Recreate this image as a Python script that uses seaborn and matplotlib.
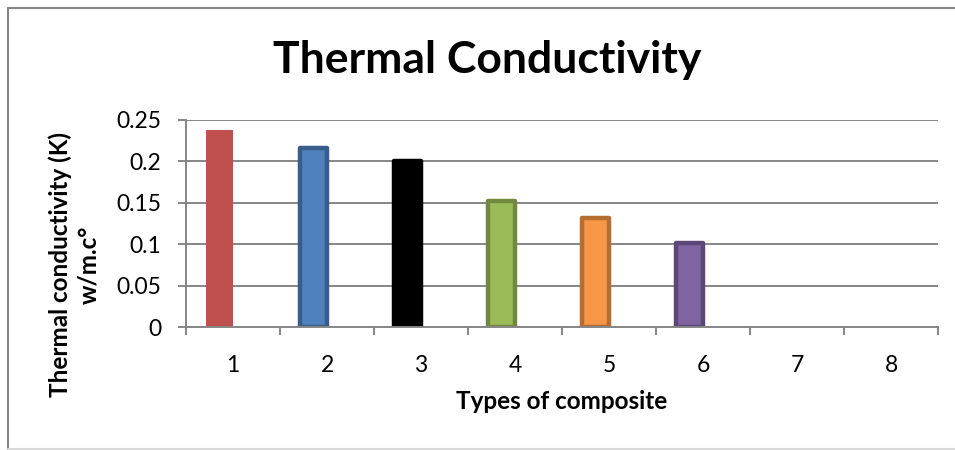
import matplotlib
matplotlib.use('Agg')
from matplotlib import pyplot as plt
from matplotlib.lines import Line2D
import seaborn as sns
import pandas as pd

# data
tipos = ['1', '2', '3', '4', '5', '6', '7', '8']
condutividade = [0.238, 0.216, 0.201, 0.152, 0.132, 0.101, 0.0, 0.0]
vazio = [0.0] * 8  # second (empty) excel series, keeps bars shifted left
yticks = [0, 0.05, 0.1, 0.15, 0.2, 0.25]
ytick_labels = ['0', '0.05', '0.1', '0.15', '0.2', '0.25']

cores = ['#C0504D', '#4F81BD', '#000000', '#9BBB59', '#F79646', '#8064A2', '#FFFFFF', '#FFFFFF']
bordas = [None, '#385D8A', '#000000', '#71893F', '#B66D31', '#5C4776', None, None]

dados = pd.DataFrame({
    'tipo': tipos * 2,
    'valor': condutividade + vazio,
    'serie': ['s1'] * 8 + ['s2'] * 8,
})

sns.set_style('white')
plt.rcParams['font.family'] = ['Lato', 'DejaVu Sans']
plt.rcParams['text.color'] = 'black'
plt.rcParams['axes.labelcolor'] = 'black'
plt.rcParams['xtick.color'] = 'black'
plt.rcParams['ytick.color'] = 'black'

fig = plt.figure(figsize=(9.55, 4.5), dpi=100)
ax = fig.add_axes([186 / 955, 1 - 327 / 450, 752 / 955, 207 / 450])

sns.barplot(data=dados, x='tipo', y='valor', hue='serie', hue_order=['s1', 's2'],
            order=tipos, width=0.58, gap=0, legend=False, ax=ax, errorbar=None)

for i, barra in enumerate(ax.containers[0]):
    barra.set_facecolor(cores[i])
    if bordas[i] is None or condutividade[i] == 0:
        barra.set_edgecolor('none')
        barra.set_linewidth(0)
    else:
        barra.set_edgecolor(bordas[i])
        barra.set_linewidth(3.2)
        barra.set_joinstyle('round')
for barra in ax.containers[1]:
    barra.set_visible(False)

ax.set_ylim(0, 0.25)
ax.set_xlim(-0.5, 7.5)
ax.set_yticks(yticks)
ax.set_yticklabels(ytick_labels)
ax.yaxis.grid(True, color='#868686', linewidth=1.4)
ax.set_axisbelow(True)

for lado in ['top', 'right']:
    ax.spines[lado].set_visible(False)
for lado in ['left', 'bottom']:
    ax.spines[lado].set_color('#868686')
    ax.spines[lado].set_linewidth(1.4)

ax.set_xticks([i - 0.5 for i in range(9)], minor=True)
ax.tick_params(axis='x', which='major', length=0, labelsize=16.5, pad=20)
ax.tick_params(axis='x', which='minor', length=6, width=1.4, color='#868686', direction='out', bottom=True)
ax.tick_params(axis='y', length=6, width=1.4, color='#868686', labelcolor='black',
               direction='out', left=True, labelsize=16.5, pad=12)

ax.set_xlabel('Types of composite', fontsize=17.5, fontweight='bold', labelpad=10)
ax.set_ylabel('Thermal conductivity (K)\nw/m.c°', fontsize=17.5, fontweight='bold', linespacing=1.3)
ax.yaxis.set_label_coords(-0.114, 0.30)

fig.text(487 / 955, 1 - 60 / 450, 'Thermal Conductivity', fontsize=32, fontweight='bold',
         ha='center', va='center')

# outer chart border
fig.add_artist(Line2D([8 / 955, 8 / 955], [0.5 / 450, 1 - 8 / 450], color='#878787', linewidth=1.5))
fig.add_artist(Line2D([8 / 955, 1], [1 - 8 / 450, 1 - 8 / 450], color='#878787', linewidth=1.5))
fig.add_artist(Line2D([8 / 955, 1], [1 / 450, 1 / 450], color='#D9D9D9', linewidth=1.5))

fig.savefig('out.png', dpi=100)
